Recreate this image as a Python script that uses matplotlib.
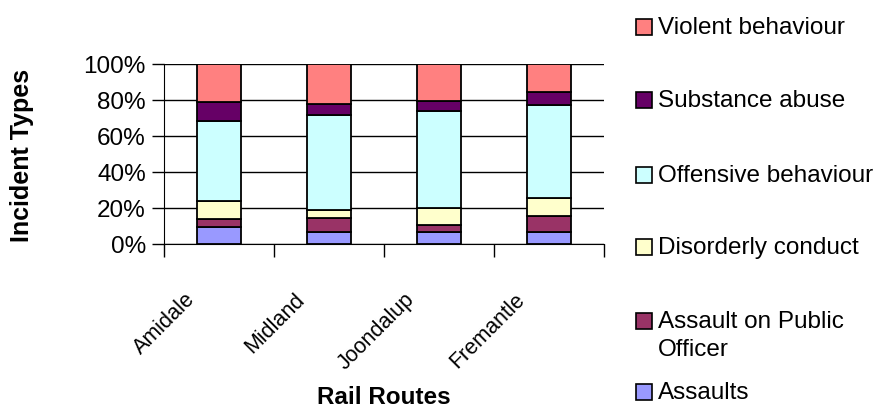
import matplotlib.pyplot as plt
import matplotlib.transforms as mtransforms
from matplotlib.patches import Rectangle
import numpy as np

plt.rcParams['font.family'] = ['Liberation Sans', 'DejaVu Sans']

routes = ["Amidale", "Midland", "Joondalup", "Fremantle"]

# shares in %, bottom to top of each bar
assaults = [9.6, 6.5, 6.5, 6.5]
assault_officer = [4.3, 7.8, 4.2, 8.9]
disorderly = [10.2, 4.4, 9.1, 10.0]
offensive = [44.4, 53.2, 54.3, 52.0]
substance = [10.2, 5.7, 5.5, 6.9]
violent = [21.3, 22.4, 20.4, 15.7]

series = [assaults, assault_officer, disorderly, offensive, substance, violent]
labels = ["Assaults", "Assault on Public\nOfficer", "Disorderly conduct",
          "Offensive behaviour", "Substance abuse", "Violent behaviour"]
colors = ["#9999FF", "#993366", "#FFFFCC", "#CCFFFF", "#660066", "#FF8080"]

fig = plt.figure(figsize=(8.8, 4.1), dpi=100)
ax = fig.add_axes([164 / 880, 1 - 245 / 410, 440 / 880, 180 / 410])

x = np.arange(len(routes))
bottom = np.zeros(len(routes))
for vals, col in zip(series, colors):
    ax.bar(x, vals, 0.4, bottom=bottom, color=col, edgecolor="black", linewidth=1.3, zorder=3)
    bottom += np.array(vals)

ax.set_xlim(-0.5, len(routes) - 0.5)
ax.set_ylim(0, 100)
ax.set_yticks(np.arange(0, 101, 20))
ax.set_yticklabels(["{}%".format(v) for v in range(0, 101, 20)], fontsize=17.5)
ax.yaxis.grid(True, color="black", linewidth=1)
ax.set_axisbelow(True)
ax.tick_params(axis="y", length=9, width=1, direction="out", pad=4)

# category ticks sit between the bars
ax.set_xticks(np.arange(-0.5, len(routes), 1))
ax.set_xticklabels([])
ax.tick_params(axis="x", length=9, width=1, direction="out")
offset = mtransforms.ScaledTranslation(-0.20, -0.44, fig.dpi_scale_trans)
for xi, name in zip(x, routes):
    ax.text(xi, 0, name, rotation=45, ha="right", va="top", fontsize=15.5,
            transform=ax.get_xaxis_transform() + offset)

for side in ["top", "right"]:
    ax.spines[side].set_visible(False)

ax.set_xlabel("Rail Routes", fontsize=17.5, fontweight="bold", va="baseline")
ax.xaxis.set_label_coords(0.5, -0.885)
ax.set_ylabel("Incident Types", fontsize=18, fontweight="bold")
ax.yaxis.set_label_coords(-0.295, 0.5)

# legend drawn by hand, top entry first
legend_y = [28, 101, 176, 248, 322, 393]
for yc, lab, col in zip(legend_y, labels[::-1], colors[::-1]):
    fig.add_artist(Rectangle((636 / 880, 1 - (yc + 8) / 410), 16 / 880, 16 / 410,
                             facecolor=col, edgecolor="black", linewidth=1.2,
                             transform=fig.transFigure))
    fig.text(658 / 880, 1 - (yc - 11) / 410, lab, fontsize=17.5, va="top", ha="left",
             linespacing=1.35)

plt.savefig("out.png", dpi=100)
